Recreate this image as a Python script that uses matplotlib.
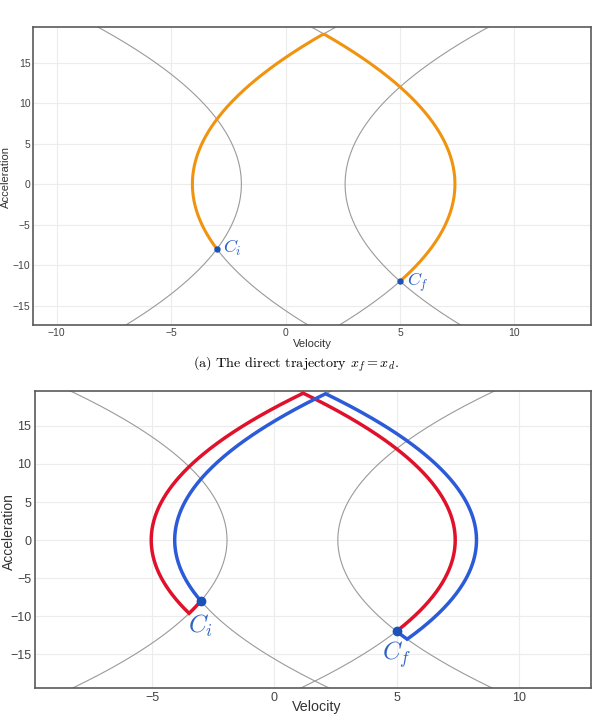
import numpy as np
import matplotlib
matplotlib.use("Agg")
import matplotlib.pyplot as plt

plt.rcParams['font.family'] = ['Liberation Sans', 'DejaVu Sans']
plt.rcParams['mathtext.fontset'] = 'cm'

# ---- data ----
jerk = 30.0                      # parabola curvature: v = c +/- a^2 / (2*jerk)
Ci = (-3.0, -8.0)                # (velocity, acceleration)
Cf = (5.0, -12.0)
# gray reference parabolas: (vertex velocity, direction +1 opens right, -1 opens left)
gray_vertex = [-1.93, -4.07, 7.4, 2.6]
gray_dir = [-1, 1, -1, 1]
# orange direct trajectory: (vertex, dir, acceleration range)
orange_vertex = [-4.07, 7.4]
orange_dir = [1, -1]
orange_a = [(-8.0, 18.55), (18.55, -12.0)]
# red trajectory
red_vertex = [-1.93, -5.03, 7.4]
red_dir = [-1, 1, -1]
red_a = [(-8.0, -9.64), (-9.64, 19.31), (19.31, -12.0)]
# blue trajectory
blue_vertex = [-4.07, 8.27, 2.6]
blue_dir = [1, -1, 1]
blue_a = [(-8.0, 19.24), (19.24, -13.04), (-13.04, -12.0)]

caption = r"(a) The direct trajectory $x_f = x_d$."

GRAY = '#9a9a9a'
ORANGE = '#f0930f'
RED = '#e0112b'
BLUE = '#2b5bd8'
PT = '#1c52b8'
LBL = '#2e63c4'

W, H = 593, 717


def seg(c, d, a0, a1, n=200):
    a = np.linspace(a0, a1, n)
    return c + d * a ** 2 / (2 * jerk), a


def path(vertices, dirs, ranges):
    vs, As = [], []
    for c, d, (a0, a1) in zip(vertices, dirs, ranges):
        v, a = seg(c, d, a0, a1)
        vs.append(v)
        As.append(a)
    return np.concatenate(vs), np.concatenate(As)


def style(ax, xlim, ylim, xt, yt, fs, pad):
    ax.set_xlim(*xlim)
    ax.set_ylim(*ylim)
    ax.set_xticks(xt)
    ax.set_yticks(yt)
    ax.set_xticklabels([f"{t:g}".replace('-', '\u2212') for t in xt])
    ax.set_yticklabels([f"{t:g}".replace('-', '\u2212') for t in yt])
    ax.grid(True, color='#ececec', lw=0.8)
    ax.set_axisbelow(True)
    ax.tick_params(length=0, labelsize=fs, colors='#444444', pad=pad)
    for s in ax.spines.values():
        s.set_color('#5a5a5a')
        s.set_linewidth(1.2)


def ftext(x, y, s, **kw):
    fig.text(x / W, 1 - y / H, s, ha='center', va='center', **kw)


fig = plt.figure(figsize=(W / 100, H / 100), dpi=100)

# ---------- top ----------
ax1 = fig.add_axes([33.3 / W, 1 - 325 / H, 557.4 / W, 298 / H])
for c, d in zip(gray_vertex, gray_dir):
    v, a = seg(c, d, -20, 20)
    ax1.plot(v, a, color=GRAY, lw=0.8, zorder=2)
v, a = path(orange_vertex, orange_dir, orange_a)
ax1.plot(v, a, color=ORANGE, lw=2.2, zorder=3, solid_joinstyle='miter')
ax1.plot([Ci[0], Cf[0]], [Ci[1], Cf[1]], 'o', color=PT, ms=3.6, zorder=4)
ax1.text(Ci[0] + 0.25, Ci[1] + 0.1, r'$C_i$', color=LBL, fontsize=13, ha='left', va='center')
ax1.text(Cf[0] + 0.3, Cf[1] - 0.1, r'$C_f$', color=LBL, fontsize=13, ha='left', va='center')
style(ax1, (-11.02, 13.33), (-17.4, 19.4), [-10, -5, 0, 5, 10],
      [-15, -10, -5, 0, 5, 10, 15], 7.5, 2)
ftext(312, 344, 'Velocity', fontsize=8.1, color='#333333')
ftext(6, 177, 'Acceleration', fontsize=8.1, color='#333333', rotation=90)

ftext(W / 2 - 1, 364, caption, fontsize=10.2, family='cmr10')

# ---------- bottom ----------
ax2 = fig.add_axes([34.8 / W, 1 - 688.3 / H, 555.9 / W, 297.6 / H])
for c, d in zip(gray_vertex, gray_dir):
    v, a = seg(c, d, -21, 21)
    ax2.plot(v, a, color=GRAY, lw=0.8, zorder=2)
v, a = path(red_vertex, red_dir, red_a)
ax2.plot(v, a, color=RED, lw=2.5, zorder=3, solid_joinstyle='miter')
v, a = path(blue_vertex, blue_dir, blue_a)
ax2.plot(v, a, color=BLUE, lw=2.5, zorder=3, solid_joinstyle='miter')
ax2.plot([Ci[0], Cf[0]], [Ci[1], Cf[1]], 'o', color=PT, ms=6, zorder=4)
ax2.text(Ci[0], Ci[1] - 1.6, r'$C_i$', color=LBL, fontsize=18, ha='center', va='top')
ax2.text(Cf[0], Cf[1] - 1.0, r'$C_f$', color=LBL, fontsize=18, ha='center', va='top')
style(ax2, (-9.79, 12.94), (-19.5, 19.64), [-5, 0, 5, 10],
      [-15, -10, -5, 0, 5, 10, 15], 9, 2.5)
ftext(317, 707, 'Velocity', fontsize=10.3, color='#333333')
ftext(8.5, 532, 'Acceleration', fontsize=10, color='#333333', rotation=90)

fig.savefig('out.png', dpi=100, facecolor='white')
